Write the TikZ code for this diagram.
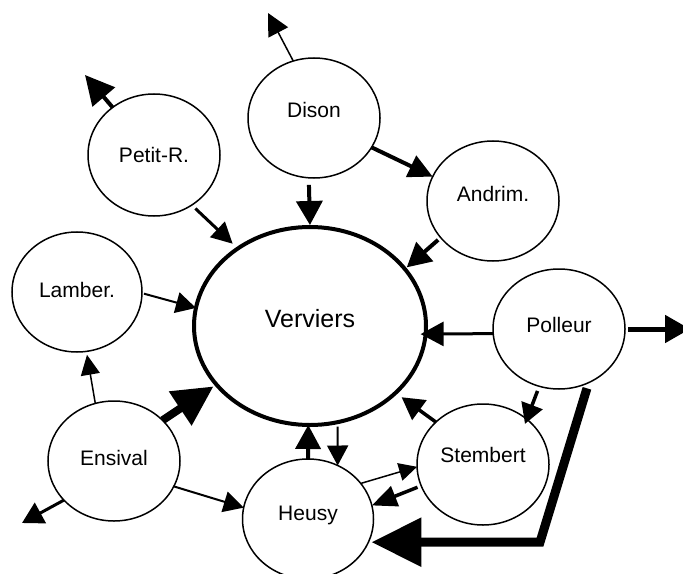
\documentclass[tikz,border=0pt]{standalone}
\usepackage{fontspec}
\setmainfont{Liberation Sans}
\usetikzlibrary{shapes.geometric,arrows.meta}
\begin{document}
\begin{tikzpicture}[x=1bp,y=-1bp,
  town/.style={ellipse, draw, line width=1.5bp, minimum width=132bp, minimum height=120bp,
    inner sep=0pt, outer sep=0pt, font=\fontsize{21bp}{24bp}\selectfont},
  arr/.style n args={3}{line width=#1, -{Triangle[length=#2,width=#3]}}]
\fill[white] (0,0) rectangle (683,574);
\useasboundingbox (0,0) rectangle (683,574);
% nodes
\node[ellipse, draw, line width=4bp, minimum width=232bp, minimum height=198bp,
  inner sep=0pt, outer sep=0pt, font=\fontsize{25bp}{28bp}\selectfont, text depth=15bp]
  (verviers) at (310,326) {Verviers};
\node[town, text depth=16bp] (dison) at (314,118) {Dison};
\node[town, minimum height=122bp] (petit) at (154,155) {Petit-R.};
\node[town, text depth=14bp] (andrim) at (493,201) {Andrim.};
\node[town, minimum width=130bp, text depth=4bp] (lamber) at (77,292) {Lamber.};
\node[town, text depth=6bp] (ensival) at (114,461) {Ensival};
\node[town, minimum width=131bp, text depth=11bp] (heusy) at (308,519) {Heusy};
\node[town, text depth=9bp] (polleur) at (559,329) {Polleur};
\node[town, minimum height=121bp, text depth=20bp] (stembert) at (483,464.5) {Stembert};
% free ends
\coordinate (out1) at (268,13);
\coordinate (out2) at (85,75);
\coordinate (out3) at (22,523);
\coordinate (out4) at (690,329);
\coordinate (bend) at (540,0 |- heusy.-21);
% connectors
\draw[arr={1.5bp}{22bp}{22bp}] (dison.110) -- (out1);
\draw[arr={4bp}{29bp}{29bp}] (petit.131) -- (out2);
\draw[arr={3bp}{21bp}{21bp}, shorten <=5bp, shorten >=7bp] (petit.-53) -- (verviers.133);
\draw[arr={4bp}{24bp}{26bp}, shorten <=7bp, shorten >=2bp] (dison.-95) -- (verviers.90);
\draw[arr={4bp}{24bp}{23bp}] (dison.-27) -- (andrim.158);
\draw[arr={4bp}{24bp}{25bp}, shorten <=3.5bp, shorten >=2.5bp] (andrim.-145) -- (verviers.31);
\draw[arr={2bp}{20bp}{21bp}, shorten <=2bp] (lamber.-1) -- (verviers.171);
\draw[arr={1.5bp}{20bp}{19bp}, shorten >=3.5bp] (ensival.108) -- (lamber.-81);
\draw[arr={8bp}{40bp}{39bp}, shorten >=3.5bp] (ensival.40) -- (verviers.-148);
\draw[arr={3bp}{21bp}{23bp}] (ensival.218) -- (out3);
\draw[arr={2bp}{20bp}{21bp}] (ensival.-23) -- (heusy.170);
\draw[arr={4bp}{24bp}{25bp}] (heusy.90) -- (verviers.-91);
\draw[arr={2bp}{20bp}{21bp}, shorten <=4.5bp] (verviers.-74.5) -- (heusy.61);
\draw[arr={3bp}{23bp}{24bp}, shorten >=-5bp] (polleur.184) -- (verviers.-4);
\draw[arr={5bp}{25bp}{27bp}, shorten <=3bp] (polleur.0) -- (out4);
\draw[arr={3.5bp}{20bp}{22bp}, shorten <=5bp, shorten >=-5bp] (polleur.-109.5) -- (stembert.46);
\draw[arr={3.5bp}{22bp}{24bp}, shorten >=7.5bp] (stembert.138) -- (verviers.-38);
\draw[arr={1.5bp}{18bp}{18bp}] (heusy.34) -- (stembert.182);
\draw[arr={3.5bp}{25bp}{21bp}, shorten <=4bp] (stembert.199) -- (heusy.12);
\draw[arr={9bp}{50bp}{47bp}, shorten <=6bp, shorten >=3bp] (polleur.-61) -- (bend) -- (heusy.-21);
\end{tikzpicture}
\end{document}
